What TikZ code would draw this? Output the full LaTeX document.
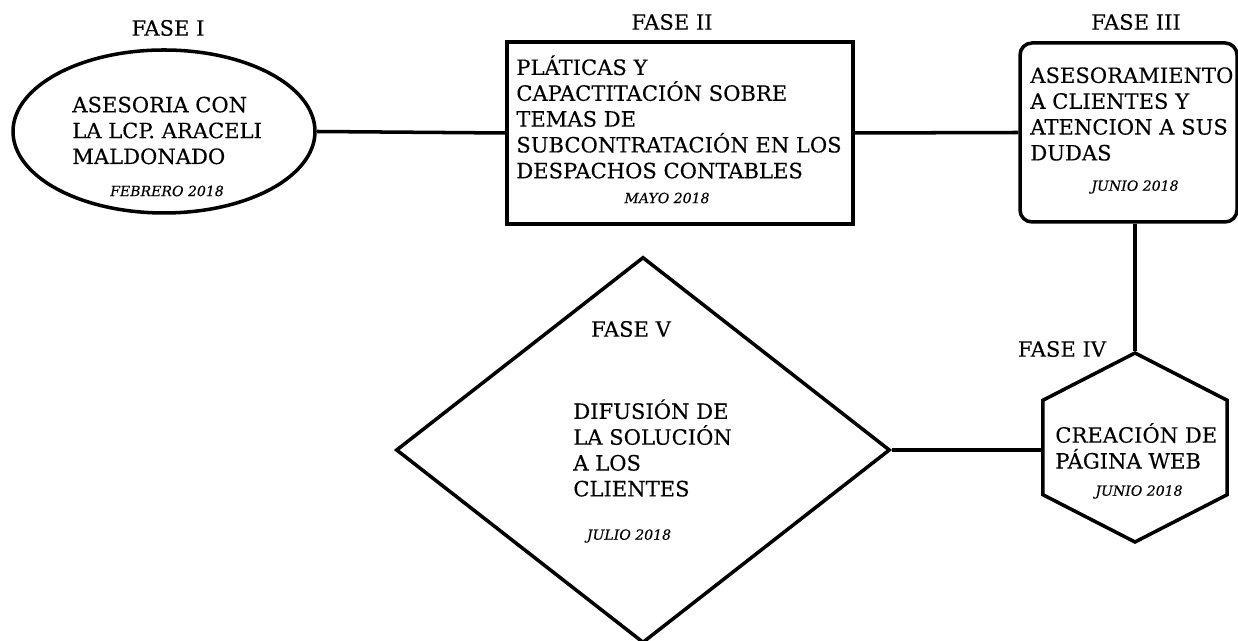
\documentclass[tikz,border=0pt]{standalone}
\usepackage{fontspec}
\setmainfont{DejaVu Serif}[FakeBold=0.3]
\usetikzlibrary{shapes.geometric}
\newcommand{\fasefont}{\fontsize{12}{14.7}\selectfont}
\newcommand{\fechafont}{\fontsize{8}{10}\selectfont\itshape}

\begin{document}
\begin{tikzpicture}[
		forma/.style={draw, line width=2pt, inner sep=0pt},
		texto/.style={font=\fasefont, align=left, inner sep=0pt, anchor=west},
		titulo/.style={font=\fasefont, inner sep=0pt},
		fecha/.style={font=\fechafont, inner sep=0pt},
		linea/.style={line width=2pt}
	]
		%%%%% START %%%%%
		\useasboundingbox (0, 0) rectangle (24.76, 12.82);
		
		\node[forma, ellipse, minimum width=6.04cm, minimum height=3.26cm] (asesoria) at (3.28, 10.19) {};
		\node[forma, minimum width=6.92cm, minimum height=3.64cm] (platicas) at (13.6, 10.16) {};
		\node[forma, rounded corners=0.24cm, minimum width=4.34cm, minimum height=3.58cm] (asesoramiento) at (22.57, 10.17) {};
		\begin{scope}[shift={(22.7, 3.87)}, xscale=1.125]
			\node[forma, regular polygon, regular polygon sides=6, regular polygon rotate=30, minimum size=3.78cm, transform shape] (pagina) at (0, 0) {};
		\end{scope}
		\node[forma, diamond, minimum width=9.88cm, minimum height=7.72cm] (difusion) at (12.86, 3.82) {};
		
		\draw[linea] (asesoria.east) -- (platicas.west);
		\draw[linea] (platicas.east) -- (asesoramiento.west);
		\draw[linea] (pagina.north) -- (pagina.north |- asesoramiento.south);
		\draw[linea] (difusion.east) -- (difusion.east -| pagina.west);
		
		\node[titulo] (fase1) at (3.36, 12.26) {FASE I};
		\node[titulo] (fase2) at (13.44, 12.38) {FASE II};
		\node[titulo] (fase3) at (22.72, 12.38) {FASE III};
		\node[titulo] (fase4) at (21.24, 5.84) {FASE IV};
		\node[titulo] (fase5) at (12.62, 6.24) {FASE V};
		
		\node[texto] (txt1) at (1.44, 10.21) {ASESORIA CON\\LA LCP. ARACELI\\MALDONADO};
		\node[texto] (txt2) at (10.32, 10.48) {PLÁTICAS Y\\CAPACTITACIÓN SOBRE\\TEMAS DE\\SUBCONTRATACIÓN EN LOS\\DESPACHOS CONTABLES};
		\node[texto] (txt3) at (20.6, 10.54) {ASESORAMIENTO\\A CLIENTES Y\\ATENCION A SUS\\DUDAS};
		\node[texto] (txt4) at (21.1, 3.9) {CREACIÓN DE\\PÁGINA WEB};
		\node[texto] (txt5) at (11.46, 3.86) {DIFUSIÓN DE\\LA SOLUCIÓN\\A LOS\\CLIENTES};
		
		\node[fecha] (fecha1) at (3.34, 9.0) {FEBRERO 2018};
		\node[fecha] (fecha2) at (13.34, 8.86) {MAYO 2018};
		\node[fecha] (fecha3) at (22.7, 9.08) {JUNIO 2018};
		\node[fecha] (fecha4) at (22.78, 2.98) {JUNIO 2018};
		\node[fecha] (fecha5) at (12.58, 2.1) {JULIO 2018};
		%%%%% END %%%%%
	\end{tikzpicture}
\end{document}
